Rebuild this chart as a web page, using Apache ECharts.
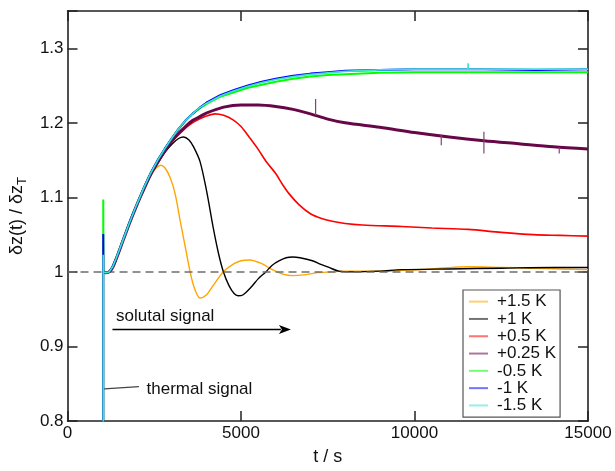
<!DOCTYPE html>
<html>
<head>
<meta charset="utf-8">
<script src="https://cdn.jsdelivr.net/npm/echarts@6/dist/echarts.min.js"></script>
<style>
  html, body { margin: 0; padding: 0; background: #fff; }
  #chart { width: 615px; height: 471px; }
</style>
</head>
<body>
<div id="chart"></div>
<script>
// Normalised deflection δz(t)/δz_T after a temperature step, for several ΔT.
const seriesNames = ['+1.5 K', '+1 K', '+0.5 K', '+0.25 K', '-0.5 K', '-1 K', '-1.5 K'];
const seriesColors = ['#ffa500', '#000000', '#ff0000', '#670748', '#00ff00', '#0000ff', '#40e0d0'];

// [t / s, δz(t)/δz_T]
const plus1_5K = [
  [1030, 1.0], [1100, 0.999], [1200, 1.0], [1300, 1.007], [1400, 1.018], [1600, 1.043],
  [1800, 1.068], [2000, 1.091], [2200, 1.112], [2400, 1.130], [2550, 1.139], [2676, 1.143],
  [2800, 1.140], [2962, 1.126], [3100, 1.105], [3248, 1.068], [3400, 1.032], [3533, 1.0],
  [3650, 0.979], [3819, 0.965], [4000, 0.969], [4200, 0.982], [4486, 1.0], [4800, 1.011],
  [5000, 1.015], [5248, 1.016], [5600, 1.011], [5900, 1.003], [6200, 0.997], [6486, 0.995],
  [6800, 0.996], [7200, 0.999], [7600, 1.0], [8000, 1.001], [9000, 1.001], [9629, 1.002],
  [10500, 1.004], [11543, 1.007], [12500, 1.006], [13429, 1.005], [14200, 1.004], [15000, 1.003]
];
const plus1K = [
  [1030, 1.0], [1100, 0.999], [1200, 1.0], [1300, 1.007], [1400, 1.018], [1600, 1.043],
  [1800, 1.068], [2000, 1.090], [2200, 1.112], [2400, 1.131], [2600, 1.146], [2800, 1.160],
  [3000, 1.171], [3200, 1.179], [3343, 1.181], [3500, 1.177], [3629, 1.168], [3819, 1.148],
  [4010, 1.108], [4200, 1.059], [4350, 1.025], [4486, 1.001], [4650, 0.982], [4800, 0.971],
  [4914, 0.968], [5050, 0.969], [5300, 0.980], [5500, 0.991], [5714, 1.0], [5900, 1.009],
  [6105, 1.015], [6300, 1.019], [6486, 1.020], [6700, 1.019], [7057, 1.015], [7300, 1.010],
  [7533, 1.006], [7819, 1.001], [8200, 1.0], [9000, 1.001], [9629, 1.003], [11000, 1.004],
  [12500, 1.005], [14000, 1.006], [15000, 1.006]
];
const plus0_5K = [
  [1030, 1.0], [1100, 0.999], [1200, 1.0], [1300, 1.006], [1400, 1.017], [1600, 1.042],
  [1800, 1.067], [2000, 1.090], [2200, 1.111], [2400, 1.131], [2600, 1.147], [2800, 1.162],
  [3000, 1.174], [3200, 1.184], [3400, 1.193], [3600, 1.200], [3800, 1.205], [4000, 1.209],
  [4250, 1.212], [4500, 1.210], [4771, 1.204], [5000, 1.195], [5248, 1.180], [5500, 1.164],
  [5724, 1.148], [6000, 1.132], [6200, 1.117], [6400, 1.104], [6676, 1.090], [7000, 1.078],
  [7300, 1.072], [7629, 1.068], [8000, 1.065], [8500, 1.063], [9629, 1.061], [10500, 1.059],
  [11543, 1.057], [12500, 1.053], [13429, 1.050], [14200, 1.049], [15000, 1.048]
];
const plus0_25K = [
  [1030, 1.0], [1100, 0.999], [1200, 1.0], [1300, 1.006], [1400, 1.017], [1600, 1.042],
  [1800, 1.067], [2000, 1.090], [2200, 1.111], [2400, 1.131], [2600, 1.147], [2800, 1.162],
  [3000, 1.175], [3200, 1.186], [3400, 1.195], [3600, 1.203], [3800, 1.208], [4000, 1.213],
  [4500, 1.221], [5000, 1.224], [5500, 1.224], [6000, 1.222], [6500, 1.218], [7000, 1.212],
  [7500, 1.205], [8000, 1.200], [9000, 1.194], [10000, 1.187], [11000, 1.181],
  [12000, 1.176], [13000, 1.172], [14000, 1.168], [15000, 1.165]
];
// isolated glitches in the +0.25 K record (t, low, high)
const plus0_25KGlitchT = [7150, 10771, 12000, 14171];
const plus0_25KGlitchLo = [1.210, 1.170, 1.159, 1.159];
const plus0_25KGlitchHi = [1.232, 1.184, 1.188, 1.167];

const minus0_5K = [
  [1030, 0.7], [1030, 1.097], [1035, 1.0], [1100, 0.999], [1200, 1.0], [1300, 1.007],
  [1400, 1.018], [1600, 1.043], [1800, 1.068], [2000, 1.091], [2200, 1.113], [2400, 1.133],
  [2600, 1.150], [2800, 1.165], [3000, 1.179], [3200, 1.192], [3400, 1.203], [3600, 1.212],
  [3800, 1.219], [4000, 1.225], [4400, 1.235], [4800, 1.241], [5200, 1.247], [5600, 1.251],
  [6000, 1.255], [6500, 1.259], [7000, 1.262], [7500, 1.264], [8000, 1.265], [9000, 1.267],
  [10000, 1.268], [12000, 1.268], [15000, 1.268]
];
const minus1K = [
  [1030, 0.7], [1030, 1.051], [1035, 1.0], [1100, 0.999], [1200, 1.0], [1300, 1.007],
  [1400, 1.018], [1600, 1.043], [1800, 1.068], [2000, 1.091], [2200, 1.113], [2400, 1.133],
  [2600, 1.150], [2800, 1.165], [3000, 1.179], [3200, 1.192], [3400, 1.203], [3600, 1.212],
  [3800, 1.220], [4000, 1.227], [4400, 1.237], [4800, 1.244], [5200, 1.250], [5600, 1.255],
  [6000, 1.259], [6500, 1.263], [7000, 1.266], [7500, 1.268], [8000, 1.270], [9000, 1.271],
  [10000, 1.272], [12000, 1.272], [13500, 1.271], [15000, 1.272]
];
const minus1_5K = [
  [1030, 0.7], [1030, 1.023], [1035, 1.0], [1100, 0.999], [1200, 1.0], [1300, 1.007],
  [1400, 1.018], [1600, 1.043], [1800, 1.068], [2000, 1.091], [2200, 1.113], [2400, 1.133],
  [2600, 1.150], [2800, 1.165], [3000, 1.179], [3200, 1.192], [3400, 1.203], [3600, 1.212],
  [3800, 1.220], [4000, 1.226], [4400, 1.236], [4800, 1.243], [5200, 1.249], [5600, 1.254],
  [6000, 1.258], [6500, 1.262], [7000, 1.265], [7500, 1.267], [8000, 1.269], [9000, 1.271],
  [10000, 1.272], [11543, 1.272], [11543, 1.280], [11550, 1.272], [13000, 1.272], [15000, 1.272]
];

const seriesData = [plus1_5K, plus1K, plus0_5K, plus0_25K, minus0_5K, minus1K, minus1_5K];
const seriesWidths = [1.4, 1.4, 1.6, 3, 2, 2, 1.6];
const seriesSmooth = [0.3, 0.3, 0.3, 0.3, false, false, false];

const xTickValues = [0, 5000, 10000, 15000];
const yTickValues = [0.8, 0.9, 1.0, 1.1, 1.2, 1.3];
const baselineLevel = 1.0;

const FONT = "'Liberation Sans', Arial, Helvetica, sans-serif";
const chart = echarts.init(document.getElementById('chart'), null, { renderer: 'canvas' });

const tickStyle = { show: true, inside: true, length: 10, lineStyle: { color: '#222', width: 1.5 } };
const lineStyleAxis = { show: true, onZero: false, lineStyle: { color: '#222', width: 1.6 } };

const series = seriesData.map((d, i) => ({
  name: seriesNames[i],
  type: 'line',
  data: d,
  showSymbol: false,
  symbol: 'none',
  smooth: seriesSmooth[i],
  clip: true,
  lineStyle: { color: seriesColors[i], width: seriesWidths[i] },
  itemStyle: { color: seriesColors[i] },
  z: 2 + i,
  animation: false
}));

// glitches of the +0.25 K record, drawn as thin vertical strokes (same legend entry)
const glitchData = [];
plus0_25KGlitchT.forEach((t, k) => {
  glitchData.push([t, plus0_25KGlitchLo[k]], [t, plus0_25KGlitchHi[k]], [t, null]);
});
series.push({
  name: seriesNames[3],
  type: 'line',
  data: glitchData,
  showSymbol: false,
  symbol: 'none',
  connectNulls: false,
  clip: true,
  lineStyle: { color: '#8a3f78', width: 1.2 },
  itemStyle: { color: seriesColors[3] },
  z: 5,
  animation: false
});

// dashed reference level at δz/δz_T = 1
series[0].markLine = {
  silent: true,
  symbol: ['none', 'none'],
  label: { show: false },
  lineStyle: { color: '#6e6e6e', width: 1.5, type: [8, 5] },
  data: [{ yAxis: baselineLevel }],
  animation: false
};

const option = {
  animation: false,
  backgroundColor: '#ffffff',
  grid: { left: 63, right: 27, top: 11, bottom: 47, containLabel: false },
  xAxis: [
    {
      type: 'value', min: 0, max: 15000, interval: 5000,
      name: 't / s', nameLocation: 'middle', nameGap: 27,
      nameTextStyle: { fontFamily: FONT, fontSize: 18, color: '#111' },
      axisLine: lineStyleAxis, axisTick: tickStyle, splitLine: { show: false },
      axisLabel: {
        fontFamily: FONT, fontSize: 17, color: '#111', margin: 4,
        customValues: xTickValues,
        formatter: v => String(v)
      }
    },
    {
      type: 'value', min: 0, max: 15000, interval: 5000, position: 'top',
      axisLine: lineStyleAxis, axisTick: tickStyle, splitLine: { show: false },
      axisLabel: { show: false }
    }
  ],
  yAxis: [
    {
      type: 'value', min: 0.8, max: 1.35, interval: 0.1,
      name: '{a|δz(t) / δz}{b|T}', nameLocation: 'middle', nameGap: 36, nameRotate: 90,
      nameTextStyle: {
        fontFamily: FONT, color: '#111',
        rich: {
          a: { fontFamily: FONT, fontSize: 18, color: '#111', lineHeight: 24, verticalAlign: 'middle' },
          b: { fontFamily: FONT, fontSize: 13, color: '#111', lineHeight: 24, verticalAlign: 'bottom', padding: [6, 0, 0, 0] }
        }
      },
      axisLine: lineStyleAxis, axisTick: tickStyle, splitLine: { show: false },
      axisLabel: {
        fontFamily: FONT, fontSize: 17, color: '#111', margin: 4,
        customValues: yTickValues,
        formatter: v => String(Math.round(v * 10) / 10)
      }
    },
    {
      type: 'value', min: 0.8, max: 1.35, interval: 0.1, position: 'right',
      axisLine: lineStyleAxis, axisTick: tickStyle, splitLine: { show: false },
      axisLabel: { show: false }
    }
  ],
  legend: {
    orient: 'vertical',
    left: 463, top: 290,
    padding: [3, 4, 3, 6],
    borderColor: '#555', borderWidth: 1.2,
    backgroundColor: '#fff',
    icon: 'rect',
    itemWidth: 19, itemHeight: 2, itemGap: 0,
    textStyle: { fontFamily: FONT, fontSize: 17, color: '#111', lineHeight: 17.3, padding: [0, 0, 0, 4] },
    data: seriesNames.map((n, i) => ({ name: n, itemStyle: { color: seriesColors[i], opacity: 0.55 } })),
    z: 20
  },
  series: series
};
chart.setOption(option);

// annotations placed in data coordinates
function px(t, v) { return chart.convertToPixel({ gridIndex: 0 }, [t, v]); }
const a0 = px(1295, 0.9228), a1 = px(6438, 0.9228);
const tl0 = px(1057, 0.8432), tl1 = px(2057, 0.8462);
const solutalPos = px(1400, 0.941);
const thermalPos = px(2276, 0.8425);

chart.setOption({
  graphic: [
    {
      type: 'line', z: 30,
      shape: { x1: a0[0], y1: a0[1], x2: a1[0] - 10, y2: a1[1] },
      style: { stroke: '#000', lineWidth: 1.6 }
    },
    {
      type: 'polygon', z: 30,
      shape: { points: [[a1[0], a1[1]], [a1[0] - 12, a1[1] - 4.5], [a1[0] - 9, a1[1]], [a1[0] - 12, a1[1] + 4.5]] },
      style: { fill: '#000' }
    },
    {
      type: 'text', z: 30, x: solutalPos[0], y: solutalPos[1],
      style: { text: 'solutal signal', font: '17px ' + FONT, fill: '#111', align: 'left', verticalAlign: 'middle' }
    },
    {
      type: 'line', z: 30,
      shape: { x1: tl0[0], y1: tl0[1], x2: tl1[0], y2: tl1[1] },
      style: { stroke: '#444', lineWidth: 1.2 }
    },
    {
      type: 'text', z: 30, x: thermalPos[0], y: thermalPos[1],
      style: { text: 'thermal signal', font: '17px ' + FONT, fill: '#111', align: 'left', verticalAlign: 'middle' }
    }
  ]
});
</script>
</body>
</html>
